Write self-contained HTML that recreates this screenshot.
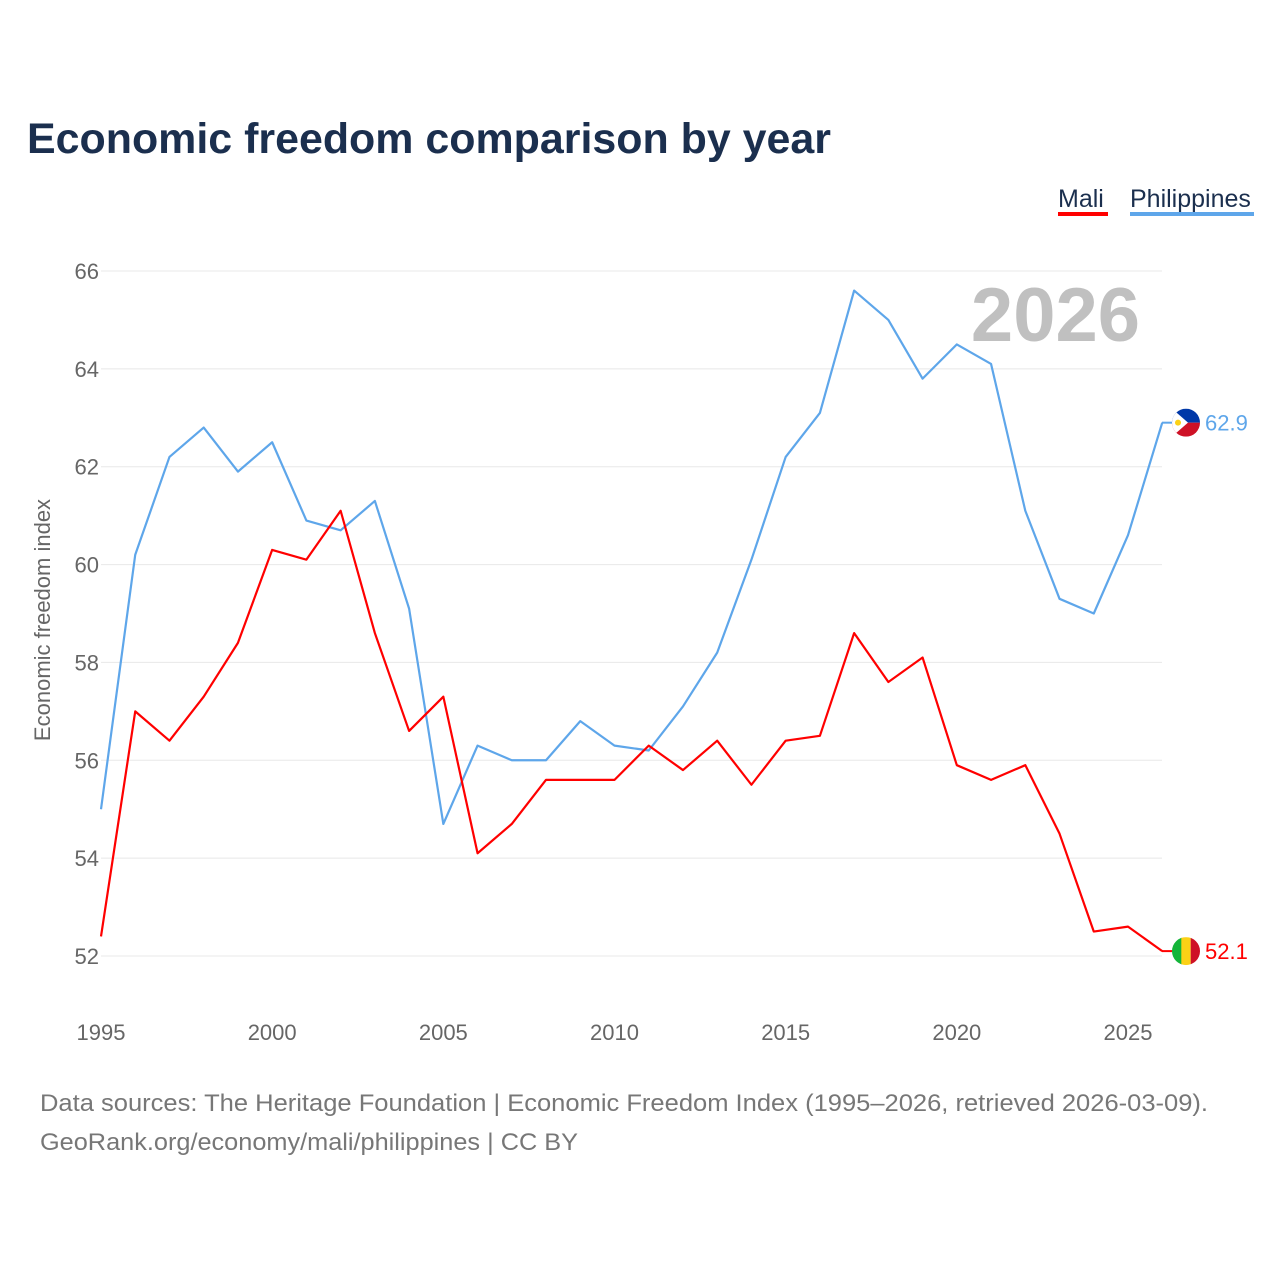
<!DOCTYPE html>
<html><head><meta charset="utf-8"><style>
html,body{margin:0;padding:0;background:#fff;}
svg{display:block;font-family:"Liberation Sans",sans-serif;}
</style></head><body>
<svg id="chart" width="1280" height="1280" viewBox="0 0 1280 1280">
<text x="27" y="153" font-size="43" font-weight="bold" fill="#1b2f4e" textLength="804" lengthAdjust="spacingAndGlyphs">Economic freedom comparison by year</text>
<g>
<text x="1058" y="207" font-size="25" fill="#1b2f4e">Mali</text>
<rect x="1058" y="212" width="50" height="4" fill="#f00"/>
<text x="1130" y="207" font-size="25" fill="#1b2f4e">Philippines</text>
<rect x="1130" y="212" width="124" height="4" fill="#5ea6ea"/>
</g>
<text x="1140" y="341" font-size="76" font-weight="bold" fill="#c0c0c0" text-anchor="end">2026</text>
<text transform="translate(50,620) rotate(-90)" font-size="22" fill="#666" text-anchor="middle">Economic freedom index</text>
<g id="grid"></g><g id="yticks"></g><g id="xticks"></g><g id="lines"></g><g id="ends"></g>
<text x="40" y="1111" font-size="24" fill="#777" textLength="1168" lengthAdjust="spacingAndGlyphs">Data sources: The Heritage Foundation | Economic Freedom Index (1995–2026, retrieved 2026-03-09).</text>
<text x="40" y="1150" font-size="24" fill="#777" textLength="538" lengthAdjust="spacingAndGlyphs">GeoRank.org/economy/mali/philippines | CC BY</text>
</svg>
<script>
const years = [1995,1996,1997,1998,1999,2000,2001,2002,2003,2004,2005,2006,2007,2008,2009,2010,2011,2012,2013,2014,2015,2016,2017,2018,2019,2020,2021,2022,2023,2024,2025,2026];
const philippines = [55.0,60.2,62.2,62.8,61.9,62.5,60.9,60.7,61.3,59.1,54.7,56.3,56.0,56.0,56.8,56.3,56.2,57.1,58.2,60.1,62.2,63.1,65.6,65.0,63.8,64.5,64.1,61.1,59.3,59.0,60.6,62.9];
const mali = [52.4,57.0,56.4,57.3,58.4,60.3,60.1,61.1,58.6,56.6,57.3,54.1,54.7,55.6,55.6,55.6,56.3,55.8,56.4,55.5,56.4,56.5,58.6,57.6,58.1,55.9,55.6,55.9,54.5,52.5,52.6,52.1];
const yTicks = [52,54,56,58,60,62,64,66];
const xTicks = [1995,2000,2005,2010,2015,2020,2025];

const NS="http://www.w3.org/2000/svg";
const X=v=>101+(v-1995)*(1128-101)/30;
const Y=v=>956-(v-52)*(956-271)/14;
function mk(tag,attrs,parent){const e=document.createElementNS(NS,tag);for(const k in attrs)e.setAttribute(k,attrs[k]);document.getElementById(parent).appendChild(e);return e;}
yTicks.forEach(t=>{
  const l=mk('line',{x1:101,x2:1162,y1:Y(t),y2:Y(t),stroke:'#e8e8e8','stroke-width':1},'grid');
  
  
  const tx=mk('text',{x:99,y:Y(t)+8,'font-size':22,fill:'#666','text-anchor':'end'},'yticks');
  tx.textContent=t;
  
  
});
xTicks.forEach(t=>{
  const tx=mk('text',{x:X(t),y:1040,'font-size':22,fill:'#666','text-anchor':'middle'},'xticks');
  tx.textContent=t;
  
  
});
function line(vals,color,name){
  const p=mk('polyline',{points:vals.map((v,i)=>X(years[i])+','+Y(v)).join(' '),fill:'none',stroke:color,'stroke-width':2.2,'stroke-linejoin':'round'},'lines');
  
  
}
line(philippines,'#5ea6ea','philippines-line');
line(mali,'#f00','mali-line');
const lp=philippines[philippines.length-1], lm=mali[mali.length-1];
const cx=1186;
const yp=Y(lp);
mk('line',{x1:1162,x2:cx-13,y1:yp,y2:yp,stroke:'#5ea6ea','stroke-width':2},'ends');
const cp=mk('clipPath',{id:'cp'},'ends');
const c1=document.createElementNS(NS,'circle');c1.setAttribute('cx',cx);c1.setAttribute('cy',yp);c1.setAttribute('r',14);cp.appendChild(c1);
mk('rect',{x:cx-14,y:yp-14,width:28,height:14,fill:'#0038a8','clip-path':'url(#cp)'},'ends');
mk('rect',{x:cx-14,y:yp,width:28,height:14,fill:'#ce1126','clip-path':'url(#cp)'},'ends');
mk('polygon',{points:`${cx-14},${yp-14} ${cx+2},${yp} ${cx-14},${yp+14}`,fill:'#fff','clip-path':'url(#cp)'},'ends');
mk('circle',{cx:cx-8,cy:yp,r:3,fill:'#fcd116'},'ends');
let t1=mk('text',{x:1205,y:yp+8,'font-size':22,fill:'#5ea6ea'},'ends');
t1.textContent=lp.toFixed(1);


const ym=Y(lm);
mk('line',{x1:1162,x2:cx-13,y1:ym,y2:ym,stroke:'#f00','stroke-width':2},'ends');
const cm=mk('clipPath',{id:'cm'},'ends');
const cc=document.createElementNS(NS,'circle');cc.setAttribute('cx',cx);cc.setAttribute('cy',ym);cc.setAttribute('r',14);cm.appendChild(cc);
mk('rect',{x:cx-14,y:ym-14,width:10,height:28,fill:'#14b53a','clip-path':'url(#cm)'},'ends');
mk('rect',{x:cx-4.7,y:ym-14,width:9.4,height:28,fill:'#fcd116','clip-path':'url(#cm)'},'ends');
mk('rect',{x:cx+4.7,y:ym-14,width:10,height:28,fill:'#ce1126','clip-path':'url(#cm)'},'ends');
let t2=mk('text',{x:1205,y:ym+8,'font-size':22,fill:'#f00'},'ends');
t2.textContent=lm.toFixed(1);


</script>
</body></html>
